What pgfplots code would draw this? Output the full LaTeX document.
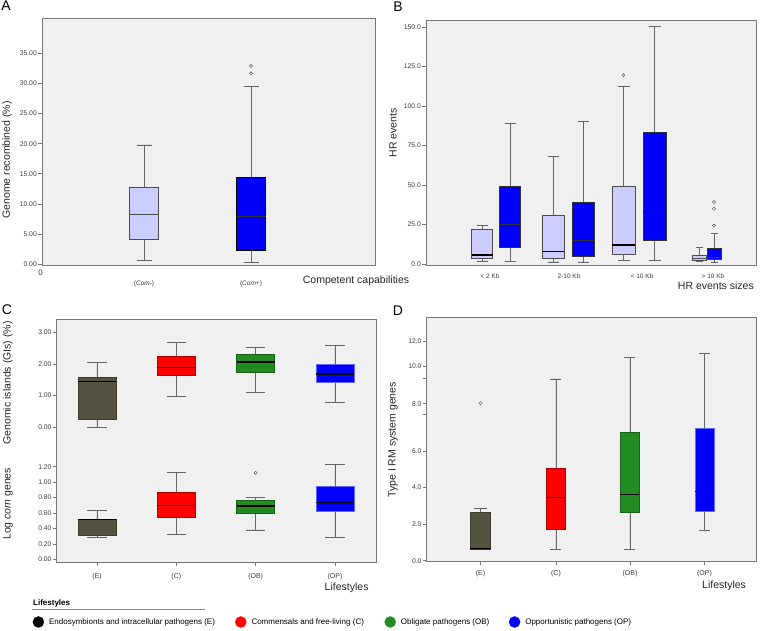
\documentclass[border=0pt]{standalone}
\usepackage{fontspec}
\setmainfont{Liberation Sans}
\usepackage{pgfplots}
\pgfplotsset{compat=1.18}
\usepgfplotslibrary{statistics}

\definecolor{bggray}{RGB}{240,240,240}
\definecolor{framegray}{RGB}{120,120,120}
\definecolor{lav}{RGB}{204,204,255}
\definecolor{dblue}{RGB}{0,0,250}
\definecolor{olive}{RGB}{85,82,64}
\definecolor{cred}{RGB}{255,0,0}
\definecolor{cgreen}{RGB}{34,139,34}
\definecolor{tickgray}{RGB}{60,60,60}

\pgfplotsset{
  panel/.style={
    scale only axis, anchor=south west, clip=false,
    axis background/.style={fill=bggray},
    axis line style={draw=framegray, line width=0.8pt},
    tick pos=left, tick align=outside,
    major tick length=4pt,
    tick style={framegray, line width=0.6pt},
    yticklabel style={font=\fontsize{6.8}{8}\selectfont, text=tickgray, inner sep=1pt},
    xticklabel style={font=\fontsize{6.5}{8}\selectfont, text=tickgray},
    /pgf/number format/assume math mode=true,
    /pgf/number format/fixed, /pgf/number format/fixed zerofill,
    label style={font=\fontsize{10.5}{12}\selectfont, text=black!85},
    boxplot/draw direction=y,
    boxplot/every median/.style={black, line width=1.1pt},
    boxplot/every whisker/.style={black!60, line width=0.7pt},
    boxplot/every box/.style={line width=0.7pt},
  },
  outl/.style={mark=o, mark size=1.6pt, mark options={draw=black!70, fill=none, line width=0.4pt, solid}},
}

\begin{document}
\begin{tikzpicture}
\useasboundingbox (0pt,0pt) rectangle (760pt,631pt);

% ---------------- Panel A ----------------
\begin{axis}[panel, at={(42pt,365.3pt)}, width=333pt, height=247.7pt,
  xmin=42, xmax=375, ymin=-0.28, ymax=40.9,
  ytick={0,5,10,15,20,25,30,35}, /pgf/number format/precision=2,
  xtick={144,251}, xticklabels={(\textit{Com-}),(\textit{Com+})},
  xtick style={draw=none}, xticklabel style={yshift=-8pt},
  xlabel={Competent capabilities}, ylabel={Genome recombined (\%)},
  xlabel style={at={(axis description cs:0.943,-0.062)}, anchor=center},
  ylabel style={at={(axis description cs:-0.105,0.427)}, anchor=center},
]
\addplot[boxplot prepared={draw position=144, lower whisker=0.55, lower quartile=4.1, median=8.27, upper quartile=12.76, upper whisker=19.8, box extend=29, whisker extend=15}, fill=lav, draw=black!70, boxplot/every median/.style={black!70, line width=0.6pt}] coordinates {};
\addplot[boxplot prepared={draw position=251, lower whisker=0.28, lower quartile=2.2, median=7.99, upper quartile=14.36, upper whisker=29.5, box extend=29, whisker extend=15}, fill=dblue, draw=black, outl, boxplot/every median/.style={black!80, line width=0.7pt}] coordinates {(251,31.7) (251,32.9)};
\end{axis}
\node[font=\fontsize{8}{9}\selectfont, text=tickgray] at (40.7pt,358pt) {0};

% ---------------- Panel B ----------------
\begin{axis}[panel, at={(426pt,366pt)}, width=330pt, height=244.3pt,
  xmin=426, xmax=756, ymin=-0.63, ymax=154,
  ytick={0,25,50,75,100,125,150}, /pgf/number format/precision=1,
  xtick={490,569,642,713}, xticklabels={< 2 Kb,2-10 Kb,< 10 Kb,> 10 Kb},
  xtick style={draw=none}, xticklabel style={yshift=-1pt},
  xlabel={HR events sizes}, ylabel={HR events},
  xlabel style={at={(axis description cs:1.004,-0.086)}, anchor=east},
  ylabel style={at={(axis description cs:-0.1,0.54)}, anchor=center},
]
\addplot[boxplot prepared={draw position=482, lower whisker=1.9, lower quartile=3.6, median=5.7, upper quartile=21.9, upper whisker=24.5, box extend=21, whisker extend=11}, fill=lav, draw=black!70] coordinates {};
\addplot[boxplot prepared={draw position=510, lower whisker=1.5, lower quartile=10.8, median=25.3, upper quartile=49.4, upper whisker=88.8, box extend=21, whisker extend=11}, fill=dblue, draw=black!80, boxplot/every median/.style={black!80, line width=0.7pt}] coordinates {};
\addplot[boxplot prepared={draw position=553, lower whisker=1.3, lower quartile=3.4, median=8.0, upper quartile=30.8, upper whisker=67.9, box extend=22, whisker extend=11}, fill=lav, draw=black!70] coordinates {};
\addplot[boxplot prepared={draw position=583, lower whisker=1.3, lower quartile=5.1, median=15.0, upper quartile=39.2, upper whisker=90.5, box extend=22, whisker extend=11}, fill=dblue, draw=black!80, boxplot/every median/.style={black!80, line width=0.7pt}] coordinates {};
\addplot[boxplot prepared={draw position=623.5, lower whisker=2.3, lower quartile=5.9, median=12.0, upper quartile=49.2, upper whisker=112.2, box extend=23, whisker extend=12}, fill=lav, draw=black!70, outl, boxplot/every median/.style={black, line width=1.6pt}] coordinates {(623.5,119.4)};
\addplot[boxplot prepared={draw position=654.5, lower whisker=2.3, lower quartile=15.0, median=33.5, upper quartile=83.3, upper whisker=150.5, box extend=23, whisker extend=12}, fill=dblue, draw=black!80] coordinates {};
\addplot[boxplot prepared={draw position=699, lower whisker=1.9, lower quartile=2.3, median=3.6, upper quartile=5.3, upper whisker=10.3, box extend=14, whisker extend=7}, fill=lav, draw=black!70, boxplot/every median/.style={black!70, line width=0.6pt}] coordinates {};
\addplot[boxplot prepared={draw position=714, lower whisker=1.3, lower quartile=2.7, median=4.0, upper quartile=9.7, upper whisker=19.4, box extend=14, whisker extend=7}, fill=dblue, draw=black!80, outl, boxplot/every median/.style={black!80, line width=0.7pt}] coordinates {(714,24.3) (714,35.0) (714,39.2)};
\end{axis}

% ---------------- Panel C (lower scale, frame) ----------------
\begin{axis}[panel, at={(56.7pt,69pt)}, width=319.3pt, height=243pt,
  xmin=0.492, xmax=4.517, ymin=-0.035, ymax=3.113,
  ytick={0,0.2,0.4,0.6,0.8,1.0,1.2}, /pgf/number format/precision=2,
  xtick={1,2,3,4}, xticklabels={(E),(C),(OB),(OP)},
  xticklabel style={font=\fontsize{7}{8}\selectfont, yshift=-4pt},
  xlabel={Lifestyles}, ylabel={Log \textit{com} genes},
  xlabel style={at={(axis description cs:0.908,-0.108)}, anchor=center},
  ylabel style={at={(axis description cs:-0.1525,0.239)}, anchor=center},
]
\addplot[boxplot prepared={draw position=1, lower whisker=0.28, lower quartile=0.31, median=0.51, upper quartile=0.52, upper whisker=0.63, box extend=0.479, whisker extend=0.24}, fill=olive, draw=olive!70!black] coordinates {};
\addplot[boxplot prepared={draw position=2, lower whisker=0.32, lower quartile=0.54, median=0.70, upper quartile=0.87, upper whisker=1.12, box extend=0.479, whisker extend=0.24}, fill=cred, draw=cred!70!black] coordinates {};
\addplot[boxplot prepared={draw position=3, lower whisker=0.38, lower quartile=0.59, median=0.69, upper quartile=0.76, upper whisker=0.80, box extend=0.479, whisker extend=0.24}, fill=cgreen, draw=cgreen!70!black, outl] coordinates {(3,1.12)};
\addplot[boxplot prepared={draw position=4, lower whisker=0.28, lower quartile=0.62, median=0.74, upper quartile=0.95, upper whisker=1.23, box extend=0.479, whisker extend=0.24}, fill=dblue, draw=blue!60!white] coordinates {};
\end{axis}

% ---------------- Panel C (upper scale) ----------------
\begin{axis}[panel, at={(56.7pt,69pt)}, width=319.3pt, height=243pt,
  axis background/.style={}, axis line style={draw=none},
  xmin=0.492, xmax=4.517, ymin=-4.25, ymax=3.416,
  ytick={0,1,2,3}, /pgf/number format/precision=2,
  xtick=\empty,
  ylabel={Genomic islands (GIs) (\%)},
  ylabel style={at={(axis description cs:-0.1525,0.737)}, anchor=center},
]
\addplot[boxplot prepared={draw position=1, lower whisker=0.0, lower quartile=0.25, median=1.44, upper quartile=1.56, upper whisker=2.05, box extend=0.479, whisker extend=0.24}, fill=olive, draw=olive!70!black] coordinates {};
\addplot[boxplot prepared={draw position=2, lower whisker=0.96, lower quartile=1.65, median=1.89, upper quartile=2.25, upper whisker=2.68, box extend=0.479, whisker extend=0.24}, fill=cred, draw=cred!70!black] coordinates {};
\addplot[boxplot prepared={draw position=3, lower whisker=1.10, lower quartile=1.72, median=2.06, upper quartile=2.30, upper whisker=2.52, box extend=0.479, whisker extend=0.24}, fill=cgreen, draw=cgreen!70!black] coordinates {};
\addplot[boxplot prepared={draw position=4, lower whisker=0.78, lower quartile=1.41, median=1.68, upper quartile=2.00, upper whisker=2.59, box extend=0.479, whisker extend=0.24}, fill=dblue, draw=blue!60!white] coordinates {};
\end{axis}

% ---------------- Panel D ----------------
\begin{axis}[panel, at={(426.7pt,69.7pt)}, width=329.3pt, height=243.6pt,
  xmin=0.2795, xmax=4.69, ymin=-0.03, ymax=13.3,
  ytick={0,2,4,6,8,10,12}, yticklabels={0.0,2.0,4.0,6.0,,,12.0},
  extra y ticks={8.59,10.66}, extra y tick labels={8.0,10.0},
  xtick={1,2.011,3.002,4}, xticklabels={(E),(C),(OB),(OP)},
  xticklabel style={font=\fontsize{7}{8}\selectfont, yshift=-2pt},
  xlabel={Lifestyles}, ylabel={Type I RM system genes},
  xlabel style={at={(axis description cs:0.903,-0.1)}, anchor=center},
  ylabel style={at={(axis description cs:-0.102,0.4986)}, anchor=center},
]
\addplot[boxplot prepared={draw position=1, lower whisker=0.64, lower quartile=0.64, median=0.68, upper quartile=2.63, upper whisker=2.87, box extend=0.268, whisker extend=0.174}, fill=olive, draw=olive!70!black, outl] coordinates {(1,8.62)};
\addplot[boxplot prepared={draw position=2.011, lower whisker=0.64, lower quartile=1.72, median=3.45, upper quartile=5.08, upper whisker=9.95, box extend=0.254, whisker extend=0.147}, fill=cred, draw=cred!70!black] coordinates {};
\addplot[boxplot prepared={draw position=3.002, lower whisker=0.64, lower quartile=2.63, median=3.63, upper quartile=7.05, upper whisker=11.14, box extend=0.254, whisker extend=0.147}, fill=cgreen, draw=cgreen!70!black] coordinates {};
\addplot[boxplot prepared={draw position=4, lower whisker=1.64, lower quartile=2.70, median=3.80, upper quartile=7.23, upper whisker=11.36, box extend=0.254, whisker extend=0.147}, fill=dblue, draw=blue!60!white] coordinates {};
\end{axis}

% ---------------- Legend (own hidden axis) ----------------
\begin{axis}[hide axis, scale only axis, anchor=south west, at={(32.5pt,4pt)},
  width=10pt, height=10pt, xmin=0, xmax=1, ymin=0, ymax=1,
  legend style={at={(axis description cs:0,0.5)}, anchor=west, draw=none, fill=none,
    inner sep=0pt, font=\fontsize{8}{9}\selectfont, nodes={inner sep=2pt}},
  legend columns=4, legend cell align=left,
]
\addlegendimage{legend image code/.code={\fill[black] (0pt,0pt) circle (5.5pt); \path[draw=none,fill=none] (-5.5pt,0pt) -- (8.7pt,0pt);}}
\addlegendentry{\makebox[184pt][l]{Endosymbionts and intracellular pathogens (E)}}
\addlegendimage{legend image code/.code={\fill[cred] (0pt,0pt) circle (5.5pt); \path[draw=none,fill=none] (-5.5pt,0pt) -- (8.7pt,0pt);}}
\addlegendentry{\makebox[131pt][l]{Commensals and free-living (C)}}
\addlegendimage{legend image code/.code={\fill[cgreen] (0pt,0pt) circle (5.5pt); \path[draw=none,fill=none] (-5.5pt,0pt) -- (8.7pt,0pt);}}
\addlegendentry{\makebox[106pt][l]{Obligate pathogens (OB)}}
\addlegendimage{legend image code/.code={\fill[dblue] (0pt,0pt) circle (5.5pt); \path[draw=none,fill=none] (-5.5pt,0pt) -- (8.7pt,0pt);}}
\addlegendentry{Opportunistic pathogens (OP)}
\end{axis}

% ---------------- panel letters & legend header ----------------
\node[font=\fontsize{14}{16}\selectfont] at (6pt,625pt) {A};
\node[font=\fontsize{14}{16}\selectfont] at (398pt,624pt) {B};
\node[font=\fontsize{14}{16}\selectfont] at (7pt,321pt) {C};
\node[font=\fontsize{14}{16}\selectfont] at (398pt,320pt) {D};
\node[anchor=west, inner sep=0pt, font=\fontsize{8}{9}\selectfont\bfseries] at (33pt,28pt) {Lifestyles};
\draw[black!45, line width=0.6pt] (32pt,22pt) -- (205pt,22pt);
\end{tikzpicture}
\end{document}
